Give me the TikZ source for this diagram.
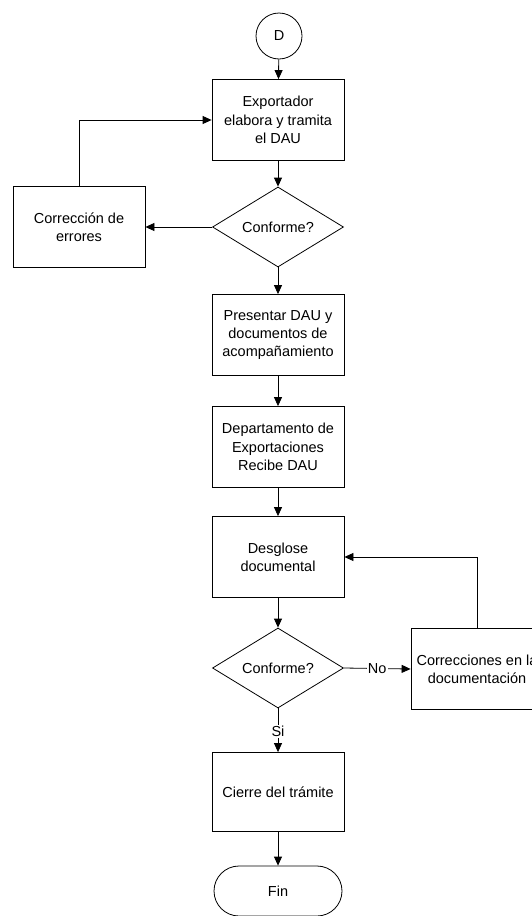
\documentclass[tikz,border=0pt]{standalone}
\usepackage{fontspec}
\setmainfont{Liberation Sans}
\usetikzlibrary{arrows.meta,shapes.geometric,shapes.misc}
\begin{document}
\begin{tikzpicture}[x=1pt,y=-1pt,
  font=\fontsize{14.5}{18.3}\selectfont,
  every path/.style={line width=0.8pt},
  proc/.style={draw, rectangle, minimum width=132pt, minimum height=81pt, align=center, inner sep=2pt},
  dec/.style={draw, diamond, aspect=1.64, minimum width=131pt, minimum height=80pt, inner sep=0pt, align=center},
  term/.style={draw, rounded rectangle, minimum width=132pt, minimum height=50pt, inner sep=2pt},
  conn/.style={draw, circle, minimum size=46pt, inner sep=0pt},
  arr/.style={-{Triangle[length=9pt,width=8pt]}},
  lbl/.style={fill=white, inner sep=1pt}]
  \useasboundingbox (0,0) rectangle (532,916);

  % nodes
  \node[conn] (d) at (279,36) {D};
  \node[proc] (b1) at (278,120) {Exportador\\elabora y tramita\\el DAU};
  \node[dec]  (c1) at (278,227) {Conforme?};
  \node[proc] (e1) at (79,227) {Corrección de\\errores};
  \node[proc] (b2) at (278,335) {Presentar DAU y\\documentos de\\acompañamiento};
  \node[proc] (b3) at (278,447) {Departamento de\\Exportaciones\\Recibe DAU};
  \node[proc] (b4) at (278,557) {Desglose\\documental};
  \node[dec]  (c2) at (278,668) {Conforme?};
  \node[proc] (r)  at (477,669) {Correcciones en la\\documentación};
  \node[proc, minimum height=79pt] (b5) at (278,792) {Cierre del trámite};
  \node[term] (fin) at (278,891) {Fin};

  % connectors
  \draw[arr] (d) -- (b1);
  \draw[arr] (b1) -- (c1);
  \draw[arr] (c1.west) -- (e1.east);
  \draw[arr] (e1.north) |- (b1.west);
  \draw[arr] (c1.south) -- (b2.north);
  \draw[arr] (b2) -- (b3);
  \draw[arr] (b3) -- (b4);
  \draw[arr] (b4) -- (c2.north);
  \draw[arr] (c2.east) -- node[lbl] {No} (r.west);
  \draw[arr] (r.north) |- (b4.east);
  \draw[arr] (c2.south) -- node[lbl, pos=0.53] {Si} (b5.north);
  \draw[arr] (b5) -- (fin);
\end{tikzpicture}
\end{document}
